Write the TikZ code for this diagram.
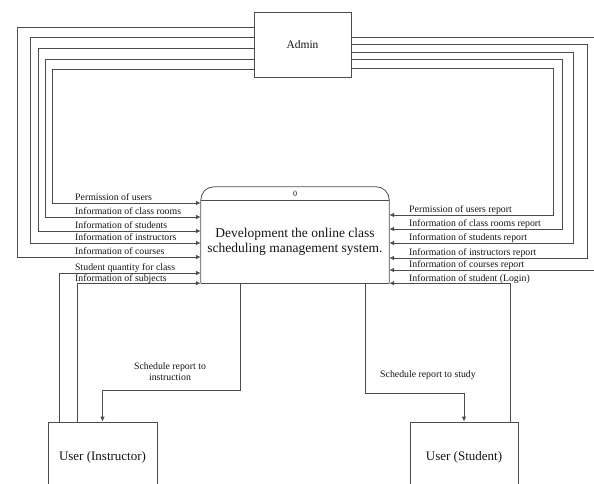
\documentclass[tikz,border=0pt]{standalone}
\usepackage{fontspec}
\setmainfont{Liberation Serif}
\usetikzlibrary{arrows.meta}
\usetikzlibrary{positioning}
\tikzset{flow/.style = {draw=black!70, line width=0.8pt,
                        -{Latex[length=5pt, width=4.5pt]}}}
\tikzset{edge/.style = {draw=black!70, line width=0.8pt}}
\tikzset{entity/.style = {draw=black!70, line width=0.8pt, fill=white,
                          font=\fontsize{11.5}{13}\selectfont}}
\tikzset{procbody/.style = {minimum width=188pt, minimum height=82pt, align=center,
                            inner sep=0, font=\fontsize{13.5}{15.5}\selectfont}}
\tikzset{lbl/.style = {anchor=base west, inner sep=0,
                       font=\fontsize{9.8}{11}\selectfont}}
\definecolor{txtgray}{rgb}{0.08, 0.08, 0.08}

\begin{document}
\begin{tikzpicture}[x=1pt, y=-1pt, text=txtgray]
      \clip (0, 0) rectangle (594, 484);

      \node [entity, minimum width=97pt, minimum height=65pt] (admin) at (302.5, 44.5) {Admin};
      \node [procbody] (proc) at (295, 242) {Development the online class\\scheduling management system.};
      \draw [edge, rounded corners=13pt] (proc.south west) -- ([yshift=14pt]proc.north west)
            -- ([yshift=14pt]proc.north east) -- (proc.south east);
      \draw [edge] (proc.south west) -- (proc.south east);
      \draw [edge] (proc.north west) -- (proc.north east);
      \node [font=\fontsize{8}{9}\selectfont] (pid) at (295, 194) {0};

      \node [entity, minimum width=109pt, minimum height=70pt, font=\fontsize{13}{15}\selectfont]
            (instr) at (102.5, 457) {User (Instructor)};
      \node [entity, minimum width=108pt, minimum height=70pt, font=\fontsize{13}{15}\selectfont]
            (stud) at (464, 457) {User (Student)};

      % admin to process
      \foreach \ya/\xv/\yp/\txt in {27/17/257/Information of courses,
                                    37/30/243/Information of instructors,
                                    48/38/231/Information of students,
                                    59/45/217/Information of class rooms,
                                    69/52/203/Permission of users}{
        \draw [flow] (admin.west |- 0, \ya) -| (\xv, \yp) -- (proc.west |- 0, \yp);
        \node [lbl] (in\yp) at (75, \yp-3) {\txt};
      }

      % reports back on the right
      \foreach \ya/\xv/\yp/\txt in {68/553/215/Permission of users report,
                                    59/562/229/Information of class rooms report,
                                    52/573/243/Information of students report,
                                    44/587/258/Information of instructors report,
                                    37/600/270/Information of courses report}{
        \draw [flow] (admin.east |- 0, \ya) -| (\xv, \yp) -- (proc.east |- 0, \yp);
        \node [lbl] (rep\yp) at (409, \yp-3) {\txt};
      }

      % users
      \draw [flow] (instr.north -| 59, 0) |- (proc.west |- 0, 273);
      \node [lbl] (quant) at (75, 270) {Student quantity for class};
      \draw [flow] (instr.north -| 77, 0) |- (proc.south west);
      \node [lbl] (subj) at (75, 281) {Information of subjects};
      \draw [flow] (stud.north -| 510, 0) |- (proc.south east);
      \node [lbl] (login) at (409, 281) {Information of student (Login)};

      \draw [flow] (proc.south -| 240, 0) -- (240, 390) -| (instr.north);
      \node [lbl, anchor=center, align=center] (schedi) at (170, 372) {Schedule report to\\instruction};
      \draw [flow] (proc.south -| 365, 0) -- (365, 393) -| (stud.north);
      \node [lbl, anchor=center] (scheds) at (428, 375) {Schedule report to study};
    \end{tikzpicture}
\end{document}
